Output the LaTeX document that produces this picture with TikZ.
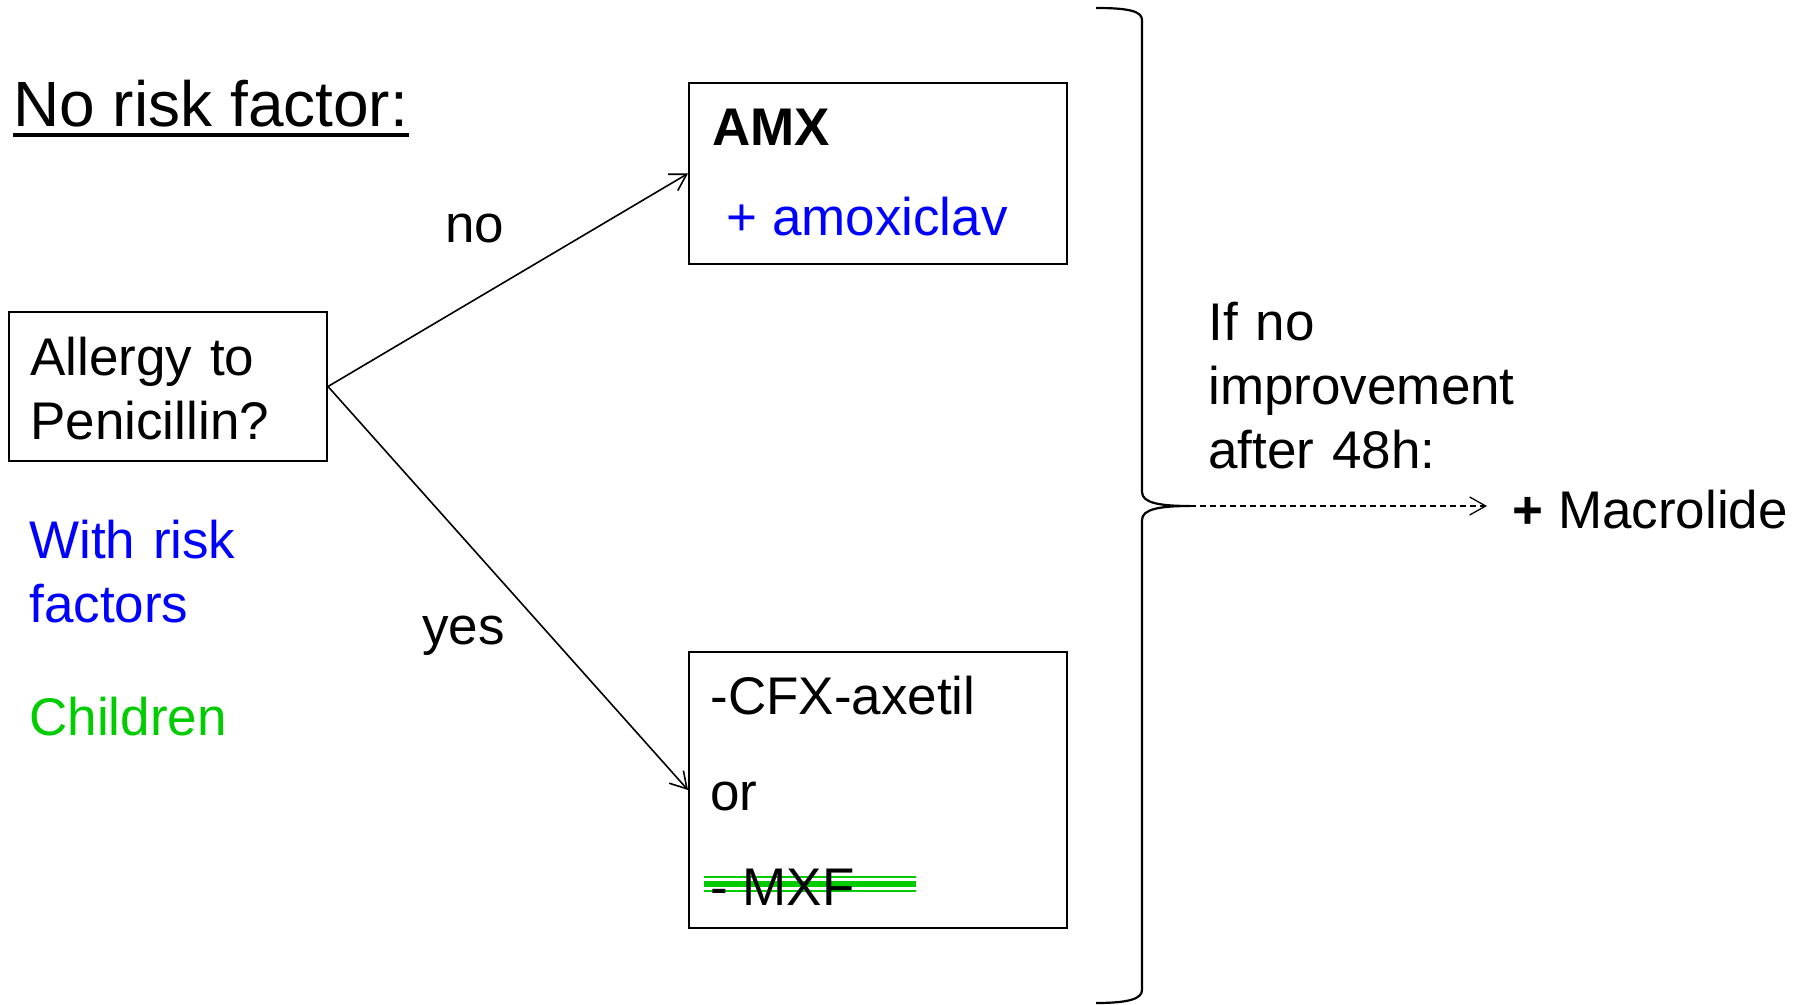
\documentclass[tikz,border=0pt]{standalone}
\usepackage{fontspec}
\setmainfont{Liberation Sans}
\usetikzlibrary{arrows.meta}
\definecolor{pblue}{RGB}{0,0,255}
\definecolor{pgreen}{RGB}{0,204,0}
\tikzset{
  body/.style={font=\fontsize{26.5pt}{32pt}\selectfont, inner sep=0pt, anchor=base west},
  twoline/.style={body, text width=#1, align=left},
  boxst/.style={draw, line width=1pt, rectangle, inner sep=0pt},
  flow/.style={line width=0.8pt, -{Straight Barb[length=8pt,width=9.5pt,line width=0.8pt]}},
  dflow/.style={line width=0.65pt, dash pattern=on 3pt off 2pt, -{Straight Barb[length=8pt,width=9pt,line width=0.65pt]}}
}
\begin{document}
\begin{tikzpicture}[x=0.5pt,y=-0.5pt]
\useasboundingbox (0,0) rectangle (1803,1005);

% title
\node[body, font=\fontsize{32pt}{38pt}\selectfont] (title) at (13,127) {No risk factor:};
\draw[line width=2.3pt] ([yshift=-4pt]title.base west) -- ([yshift=-4pt]title.base east);

% question box
\node[boxst, minimum width=159pt, minimum height=74.5pt] (allergy) at (168,386.5) {};
\node[twoline=150pt] (allergytxt) at (30,376) {Allergy to\\Penicillin?};

% left notes
\node[twoline=150pt, text=pblue] (risk) at (29,558) {With risk\\factors};
\node[body, text=pgreen] (children) at (29,735) {Children};

% AMX box
\node[boxst, minimum width=189pt, minimum height=90.5pt] (amx) at (878,173.5) {};
\node[body] (amxtxt) at (712,146) {\textbf{AMX}};
\node[body, text=pblue] (amoxiclav) at (726,236) {+ amoxiclav};

% CFX box
\node[boxst, minimum width=189pt, minimum height=138pt] (cfx) at (878,790) {};
\draw[pgreen, line width=1pt] (704,877) -- (916,877);
\draw[pgreen, line width=3pt] (704,884) -- (916,884);
\draw[pgreen, line width=1pt] (704,891) -- (916,891);
\node[body] (cfxtxt) at (710,714) {-CFX-axetil};
\node[body] (ortxt) at (710,810) {or};
\node[body] (mxf) at (710,905) {- MXF};

% arrows and labels
\draw[flow] (allergy.east) -- (amx.west);
\draw[flow] (allergy.east) -- (cfx.west);
\node[body] (no) at (445,243) {no};
\node[body] (yes) at (422,644) {yes};

% brace
\draw[line width=1.1pt]
  (1096,8) .. controls (1128,8) and (1142,11) .. (1142,20)
  -- (1142,492) .. controls (1142,503) and (1160,506) .. (1190,506)
  .. controls (1160,506) and (1142,509) .. (1142,520)
  -- (1142,990) .. controls (1142,999) and (1128,1003) .. (1096,1003);
\coordinate (cusp) at (1190,506);

% right side
\node[twoline=200pt] (ifno) at (1208,341) {If no\\improvement\\after 48h:};
\node[body] (macro) at (1512,528) {\textbf{+} Macrolide};
\draw[dflow, shorten >=12.5pt] (cusp) -- (cusp -| macro.west);
\end{tikzpicture}
\end{document}
